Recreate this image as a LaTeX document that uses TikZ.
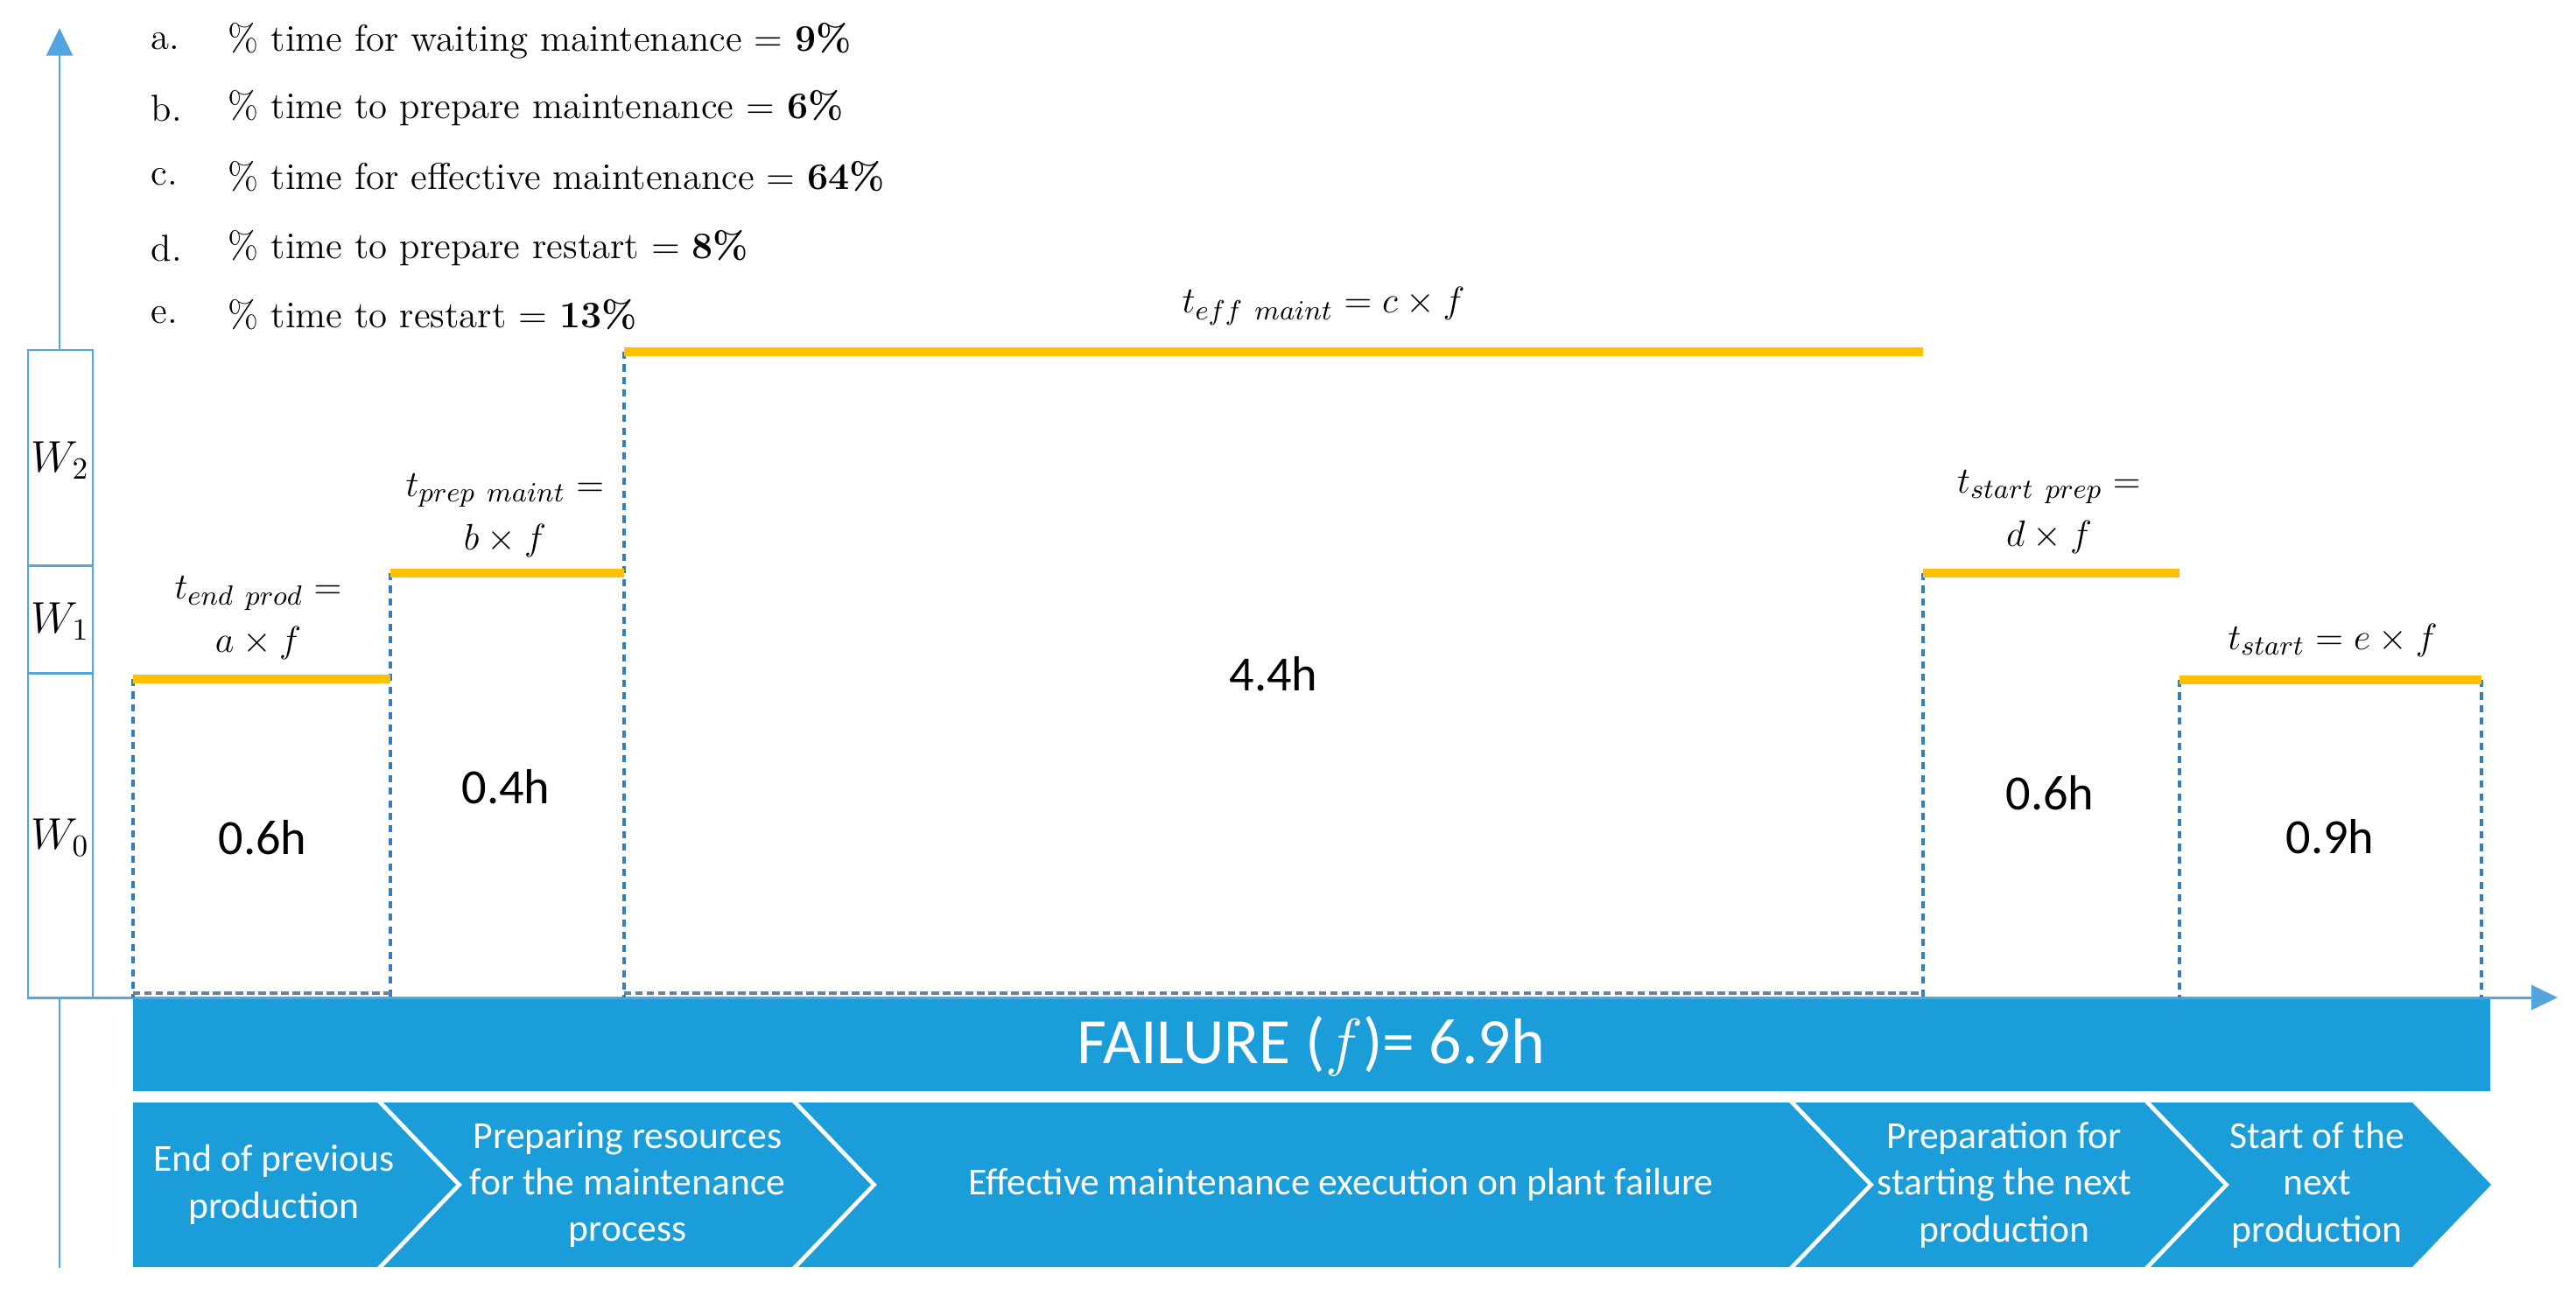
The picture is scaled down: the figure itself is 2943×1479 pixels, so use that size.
\documentclass[tikz,border=0pt]{standalone}
\usepackage{fontspec}
\newfontfamily\calibrifont{Carlito}
\usetikzlibrary{arrows.meta}
\definecolor{barblue}{RGB}{27,157,217}
\definecolor{axisblue}{RGB}{84,164,222}
\definecolor{dashblue}{RGB}{52,126,188}
\definecolor{dashgrey}{RGB}{100,132,165}
\definecolor{gold}{RGB}{255,192,0}
\begin{document}
\begin{tikzpicture}[x=0.01cm,y=-0.01cm,
  goldline/.style={gold,line width=2.9pt},
  dashv/.style={dashblue,line width=0.95pt,dash pattern=on 2.3pt off 1.8pt},
  dashh/.style={dashgrey,line width=1.2pt,dash pattern=on 2.4pt off 1.3pt},
  axisline/.style={axisblue,line width=0.85pt},
  listitem/.style={anchor=west,font=\fontsize{12.2}{14}\selectfont,inner sep=0pt},
  mathlbl/.style={align=center,font=\fontsize{12.5}{13.5}\selectfont,inner sep=0pt},
  wlbl/.style={font=\fontsize{14}{16}\selectfont,inner sep=0pt},
  numlbl/.style={font=\calibrifont\fontsize{16}{19}\selectfont,inner sep=0pt},
  chev/.style={fill=barblue},
  chevtxt/.style={text=white,align=center,font=\calibrifont\fontsize{12.4}{15.2}\selectfont,inner sep=0pt},
]
\useasboundingbox (0,0) rectangle (2943,1479);

% axes
\coordinate (ytop) at (68,32);
\coordinate (ybot) at (68,1449);
\draw[axisline,-{Triangle[length=9pt,width=8.5pt]}] (ybot) -- (ytop);
\coordinate (xl) at (32,1140);
\coordinate (xr) at (2922,1140);
\draw[axisline,-{Triangle[length=8.5pt,width=8pt]}] (xl) -- (xr);

% W box
\draw[axisline,fill=white] (32,400) rectangle (106,1140);
\draw[axisline] (32,646) -- (106,646);
\draw[axisline] (32,769) -- (106,769);
\node[wlbl] (w2) at (69,526) {$W_2$};
\node[wlbl] (w1) at (69,710) {$W_1$};
\node[wlbl] (w0) at (69,957) {$W_0$};

% list
\node[listitem] (la) at (172,47) {a.};
\node[listitem] (ta) at (260,47) {\% time for waiting maintenance = \textbf{9\%}};
\node[listitem] (lb) at (172,124) {b.};
\node[listitem] (tb) at (260,124) {\% time to prepare maintenance = \textbf{6\%}};
\node[listitem] (lc) at (172,202) {c.};
\node[listitem] (tc) at (260,202) {\% time for effective maintenance = \textbf{64\%}};
\node[listitem] (ld) at (172,284) {d.};
\node[listitem] (td) at (260,284) {\% time to prepare restart = \textbf{8\%}};
\node[listitem] (le) at (172,360) {e.};
\node[listitem] (te) at (260,360) {\% time to restart = \textbf{13\%}};

% step coordinates
\coordinate (base) at (0,1140);
\coordinate (s1a) at (152,776);  \coordinate (s1b) at (446,776);
\coordinate (s2a) at (446,655);  \coordinate (s2b) at (713,655);
\coordinate (s3a) at (713,402);  \coordinate (s3b) at (2197,402);
\coordinate (s4a) at (2197,655); \coordinate (s4b) at (2490,655);
\coordinate (s5a) at (2490,777); \coordinate (s5b) at (2835,777);

% dashed verticals
\draw[dashv] (s1a) -- (s1a |- base);
\draw[dashv] (s2a) -- (s2a |- base);
\draw[dashv] (s3a) -- (s3a |- base);
\draw[dashv] (s4a) -- (s4a |- base);
\draw[dashv] (s5a) -- (s5a |- base);
\draw[dashv] (s5b) -- (s5b |- base);
% dashed bottoms
\draw[dashh] (152,1135) -- (446,1135);
\draw[dashh] (713,1135) -- (2197,1135);

% gold lines
\draw[goldline] (s1a) -- (s1b);
\draw[goldline] (s2a) -- (s2b);
\draw[goldline] (s3a) -- (s3b);
\draw[goldline] (s4a) -- (s4b);
\draw[goldline] (s5a) -- (s5b);

% formula labels
\node[mathlbl] (fa) at (295,706) {$t_{end\ prod} =$\\[4pt]$a\times f$};
\node[mathlbl] (fb) at (577,589) {$t_{prep\ maint} =$\\[4pt]$b\times f$};
\node[mathlbl] (fc) at (1512,350) {$t_{eff\ maint} = c\times f$};
\node[mathlbl] (fd) at (2341,585) {$t_{start\ prep} =$\\[4pt]$d\times f$};
\node[mathlbl] (fe) at (2665,732) {$t_{start} = e\times f$};

% durations
\node[numlbl] (d1) at (300,957) {0.6h};
\node[numlbl] (d2) at (578,899) {0.4h};
\node[numlbl] (d3) at (1455,770) {4.4h};
\node[numlbl] (d4) at (2342,906) {0.6h};
\node[numlbl] (d5) at (2662,956) {0.9h};

% failure bar
\fill[barblue] (152,1142) rectangle (2845,1247);
\node[text=white,font=\calibrifont\fontsize{21}{24}\selectfont,inner sep=0pt] (fail) at (1498,1196) {FAILURE ($f$)= 6.9h};

% chevrons
\fill[chev] (152,1260) -- (431,1260) -- (521,1354) -- (431,1448) -- (152,1448) -- cycle;
\fill[chev] (438,1260) -- (905,1260) -- (995,1354) -- (905,1448) -- (438,1448) -- (528,1354) -- cycle;
\fill[chev] (912,1260) -- (2044,1260) -- (2134,1354) -- (2044,1448) -- (912,1448) -- (1002,1354) -- cycle;
\fill[chev] (2051,1260) -- (2450,1260) -- (2540,1354) -- (2450,1448) -- (2051,1448) -- (2141,1354) -- cycle;
\fill[chev] (2457,1260) -- (2756,1260) -- (2846,1354) -- (2756,1448) -- (2457,1448) -- (2547,1354) -- cycle;
\node[chevtxt] (c1) at (313,1354) {End of previous\\production};
\node[chevtxt] (c2) at (717,1354) {Preparing resources\\for the maintenance\\process};
\node[chevtxt] (c3) at (1532,1354) {Effective maintenance execution on plant failure};
\node[chevtxt] (c4) at (2290,1354) {Preparation for\\starting the next\\production};
\node[chevtxt] (c5) at (2647,1354) {Start of the\\next\\production};
\end{tikzpicture}
\end{document}
